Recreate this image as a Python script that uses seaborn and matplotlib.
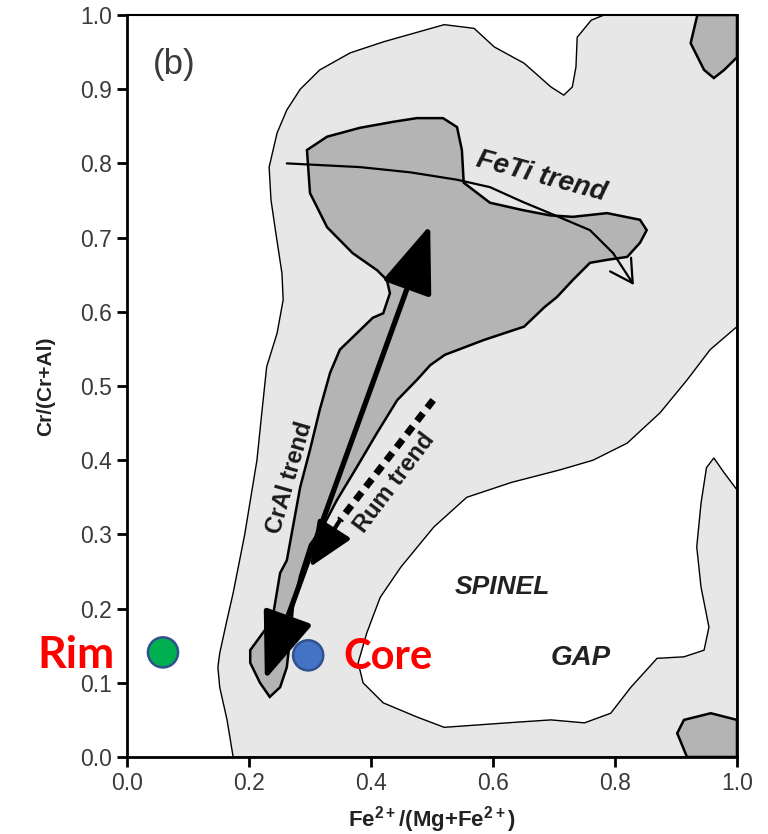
import numpy as np
import pandas as pd
import matplotlib
matplotlib.use("Agg")
import matplotlib.pyplot as plt
import seaborn as sns

# ---------------- data ----------------
outer_x = [0.174, 0.164, 0.152, 0.149, 0.152, 0.164, 0.174, 0.193, 0.213, 0.221, 0.229, 0.246,
           0.256, 0.254, 0.244, 0.236, 0.233, 0.246, 0.262, 0.284, 0.316, 0.366, 0.421, 0.520,
           0.569, 0.602, 0.651, 0.695, 0.716, 0.730, 0.736, 0.738, 0.761, 0.782, 1.0, 1.0]
outer_y = [0.0, 0.05, 0.094, 0.121, 0.14, 0.185, 0.221, 0.30, 0.40, 0.464, 0.526, 0.571,
           0.616, 0.652, 0.706, 0.751, 0.795, 0.841, 0.872, 0.900, 0.926, 0.949, 0.964, 0.987,
           0.982, 0.957, 0.935, 0.903, 0.892, 0.903, 0.930, 0.970, 0.993, 1.0, 1.0, 0.0]

gap_x = [1.0, 0.956, 0.918, 0.874, 0.820, 0.764, 0.710, 0.630, 0.557, 0.503, 0.449, 0.415,
         0.393, 0.379, 0.387, 0.420, 0.475, 0.520, 0.640, 0.695, 0.750, 0.793, 0.826, 0.869,
         0.913, 0.946, 0.954, 0.941, 0.934, 0.941, 0.950, 0.962, 0.979, 1.0]
gap_y = [0.580, 0.549, 0.508, 0.464, 0.423, 0.400, 0.387, 0.370, 0.350, 0.310, 0.256, 0.215,
         0.167, 0.127, 0.100, 0.073, 0.054, 0.040, 0.047, 0.050, 0.046, 0.059, 0.094, 0.133,
         0.135, 0.144, 0.175, 0.229, 0.283, 0.342, 0.390, 0.403, 0.383, 0.360]

main_x = [0.295, 0.328, 0.382, 0.436, 0.475, 0.518, 0.541, 0.549, 0.552, 0.595, 0.649, 0.693,
          0.731, 0.787, 0.841, 0.852, 0.841, 0.820, 0.787, 0.759, 0.731, 0.705, 0.684, 0.651,
          0.585, 0.521, 0.497, 0.475, 0.443, 0.410, 0.377, 0.344, 0.321, 0.300, 0.284, 0.272,
          0.267, 0.262, 0.251, 0.234, 0.218, 0.202, 0.202, 0.226, 0.239, 0.251, 0.262, 0.272,
          0.284, 0.300, 0.316, 0.333, 0.349, 0.403, 0.420, 0.431, 0.426, 0.410, 0.370, 0.328,
          0.300]
main_y = [0.818, 0.836, 0.848, 0.856, 0.861, 0.861, 0.849, 0.818, 0.774, 0.747, 0.737, 0.730,
          0.728, 0.733, 0.724, 0.710, 0.693, 0.674, 0.670, 0.666, 0.643, 0.620, 0.606, 0.580,
          0.562, 0.542, 0.528, 0.508, 0.481, 0.437, 0.391, 0.346, 0.310, 0.286, 0.245, 0.202,
          0.158, 0.121, 0.094, 0.081, 0.100, 0.127, 0.144, 0.171, 0.189, 0.248, 0.265, 0.310,
          0.364, 0.414, 0.468, 0.518, 0.549, 0.592, 0.598, 0.625, 0.643, 0.656, 0.679, 0.714,
          0.760]

topblob_x = [0.935, 0.924, 0.946, 0.962, 0.979, 1.0, 1.0]
topblob_y = [1.0, 0.962, 0.926, 0.915, 0.926, 0.943, 1.0]
botblob_x = [0.918, 0.902, 0.913, 0.957, 1.0, 1.0]
botblob_y = [0.0, 0.032, 0.050, 0.059, 0.050, 0.0]

feti_x = [0.262, 0.382, 0.464, 0.541, 0.595, 0.649, 0.693, 0.759, 0.797, 0.831]
feti_y = [0.800, 0.795, 0.788, 0.778, 0.768, 0.748, 0.733, 0.710, 0.679, 0.636]

cral_x = [0.226, 0.497]
cral_y = [0.104, 0.717]

rum_x = [0.502, 0.349, 0.300]
rum_y = [0.481, 0.319, 0.256]

point_labels = ["Rim", "Core"]
point_x = [0.059, 0.297]
point_y = [0.141, 0.137]
point_colors = ["#00b050", "#4472c4"]

xticks = [0.0, 0.2, 0.4, 0.6, 0.8, 1.0]
yticks = [0.0, 0.1, 0.2, 0.3, 0.4, 0.5, 0.6, 0.7, 0.8, 0.9, 1.0]

# ---------------- style ----------------
sns.set_theme(style="white")
plt.rcParams["font.family"] = ["Liberation Sans", "DejaVu Sans"]
plt.rcParams["mathtext.fontset"] = "custom"
plt.rcParams["mathtext.rm"] = "Liberation Sans:bold"
plt.rcParams["mathtext.bf"] = "Liberation Sans:bold"

LIGHT = "#e7e7e7"
DARK = "#b4b4b4"
TXT = "#3a3a3a"

fig = plt.figure(figsize=(7.68, 8.34), dpi=100)
ax = fig.add_axes([127 / 768, 1 - 757 / 834, 610 / 768, 742 / 834])
ax.set_xlim(0, 1)
ax.set_ylim(0, 1)
ax.set_facecolor("white")

# regions
ax.fill(outer_x, outer_y, facecolor=LIGHT, edgecolor="black", lw=1.0, zorder=1)
ax.fill(gap_x, gap_y, facecolor="white", edgecolor="black", lw=1.0, zorder=2)
ax.fill(main_x, main_y, facecolor=DARK, edgecolor="black", lw=1.8, zorder=3)
ax.fill(topblob_x, topblob_y, facecolor=DARK, edgecolor="black", lw=1.8, zorder=3)
ax.fill(botblob_x, botblob_y, facecolor=DARK, edgecolor="black", lw=1.8, zorder=3)

# FeTi trend (thin line with open arrowhead)
ax.plot(feti_x[:-1], feti_y[:-1], color="black", lw=1.6, zorder=5, solid_capstyle="round")
ax.annotate("", xy=(feti_x[-1], feti_y[-1]), xytext=(feti_x[-2], feti_y[-2]),
            arrowprops=dict(arrowstyle="->,head_length=0.8,head_width=0.45", lw=1.6,
                            color="black", shrinkA=0, shrinkB=0, mutation_scale=20), zorder=5)

# CrAl trend (thick double-headed arrow)
ax.annotate("", xy=(cral_x[1], cral_y[1]), xytext=(cral_x[0], cral_y[0]),
            arrowprops=dict(arrowstyle="<|-|>,head_length=2.1,head_width=0.8", lw=3.8,
                            color="black", shrinkA=0, shrinkB=0, mutation_scale=20), zorder=6)

# Rum trend (dashed thick line with filled arrowhead)
ax.plot(rum_x[:2], rum_y[:2], color="black", lw=5, linestyle=(0, (1.4, 1.0)),
        solid_capstyle="butt", dash_capstyle="butt", zorder=6)
ax.annotate("", xy=(rum_x[2], rum_y[2]), xytext=(rum_x[1], rum_y[1]),
            arrowprops=dict(arrowstyle="-|>,head_length=1.4,head_width=0.6", lw=3,
                            color="black", shrinkA=0, shrinkB=0, mutation_scale=20), zorder=6)

# points
pts = pd.DataFrame({"label": point_labels, "x": point_x, "y": point_y})
sns.scatterplot(data=pts, x="x", y="y", hue="label", palette=dict(zip(point_labels, point_colors)),
                s=470, edgecolor="#2f528f", linewidth=1.8, legend=False, ax=ax, zorder=8,
                clip_on=False)

# texts
ax.text(0.043, 0.933, "(b)", fontsize=25, color=TXT, ha="left", va="center", zorder=9)
ax.text(0.680, 0.782, "FeTi trend", fontsize=20, fontweight="bold", style="italic",
        color="#1a1a1a", rotation=-15, ha="center", va="center", zorder=9)
ax.text(0.267, 0.377, "CrAl trend", fontsize=17, fontweight="bold",
        color="#1a1a1a", rotation=74, ha="center", va="center", zorder=9)
ax.text(0.439, 0.369, "Rum trend", fontsize=17, fontweight="bold",
        color="#1a1a1a", rotation=53, ha="center", va="center", zorder=9)
ax.text(0.615, 0.229, "SPINEL", fontsize=19, fontweight="bold", style="italic",
        color="#222222", ha="center", va="center", zorder=9)
ax.text(0.744, 0.133, "GAP", fontsize=20, fontweight="bold", style="italic",
        color="#222222", ha="center", va="center", zorder=9)
ax.text(-0.084, 0.137, "Rim", fontsize=32, fontweight="bold", color="#ff0000",
        family=["Lato", "DejaVu Sans"], ha="center", va="center", zorder=9, clip_on=False)
ax.text(0.428, 0.135, "Core", fontsize=30, fontweight="bold", color="#ff0000",
        family=["Lato", "DejaVu Sans"], ha="center", va="center", zorder=9)

# axes styling
ax.set_xticks(xticks)
ax.set_yticks(yticks)
ax.set_xticklabels([f"{v:.1f}" for v in xticks])
ax.set_yticklabels([f"{v:.1f}" for v in yticks])
ax.tick_params(axis="both", direction="out", length=7, width=2, color="black",
               labelsize=16.5, labelcolor=TXT, pad=4, bottom=True, left=True)
for side in ["left", "bottom", "right"]:
    ax.spines[side].set_linewidth(2)
    ax.spines[side].set_color("black")
ax.spines["top"].set_linewidth(1.5)
ax.spines["top"].set_color("black")
for sp in ax.spines.values():
    sp.set_zorder(10)

ax.set_xlabel("Fe$^{2+}$/(Mg+Fe$^{2+}$)", fontsize=16, fontweight="bold", color="#222222",
              labelpad=6)
ax.set_ylabel("Cr/(Cr+Al)", fontsize=15, fontweight="bold", color="#222222", labelpad=18)

fig.savefig("out.png", dpi=100)
